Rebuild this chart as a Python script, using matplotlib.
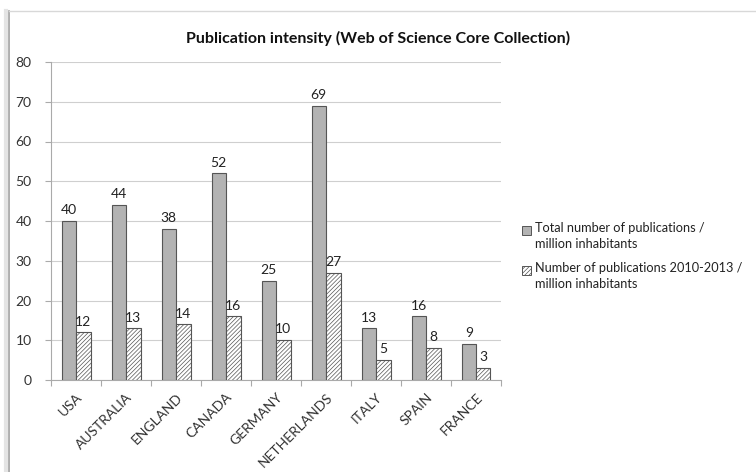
import matplotlib
matplotlib.use("Agg")
import matplotlib.pyplot as plt
import numpy as np
from matplotlib.patches import Rectangle
from matplotlib.lines import Line2D

countries = ["USA", "AUSTRALIA", "ENGLAND", "CANADA", "GERMANY", "NETHERLANDS", "ITALY", "SPAIN", "FRANCE"]
total = [40, 44, 38, 52, 25, 69, 13, 16, 9]
recent = [12, 13, 14, 16, 10, 27, 5, 8, 3]
series_names = ["Total number of publications /\nmillion inhabitants",
                "Number of publications 2010-2013 /\nmillion inhabitants"]
yticks = [0, 10, 20, 30, 40, 50, 60, 70, 80]

plt.rcParams['font.family'] = ['Lato', 'DejaVu Sans']
plt.rcParams['hatch.color'] = '#808080'
plt.rcParams['hatch.linewidth'] = 0.5

fig = plt.figure(figsize=(7.56, 4.72), dpi=100)
fig.patch.set_facecolor('white')

# frame
fig.add_artist(Line2D([9/756, 9/756], [0, 1 - 11/472], transform=fig.transFigure, color='#a0a0a0', lw=1.2))
fig.add_artist(Line2D([9/756, 1], [1 - 11/472, 1 - 11/472], transform=fig.transFigure, color='#d8d8d8', lw=1.0))
fig.add_artist(Line2D([6/756, 6/756], [0, 1 - 11/472], transform=fig.transFigure, color='#e4e4e4', lw=3))

ax = fig.add_axes([51/756, 1 - 380/472, 450/756, (380 - 62)/472])
x = np.arange(len(countries))
w = 0.29
b1 = ax.bar(x - w/2, total, w, color='#b3b3b3', edgecolor='#555555', linewidth=0.8, label=series_names[0], zorder=3)
b2 = ax.bar(x + w/2, recent, w, color='white', edgecolor='#555555', linewidth=0.8, hatch='////////', label=series_names[1], zorder=3)

for rect, v in zip(b1, total):
    ax.text(rect.get_x() + rect.get_width()/2, v + 1.2, str(v), ha='center', va='bottom', fontsize=10, color='#222222')
for rect, v in zip(b2, recent):
    ax.text(rect.get_x() + rect.get_width()/2, v + 1.2, str(v), ha='center', va='bottom', fontsize=10, color='#222222')

ax.set_xlim(-0.5, len(countries) - 0.5)
ax.set_ylim(0, 80)
ax.set_yticks(yticks)
ax.set_yticklabels([str(t) for t in yticks], fontsize=10, color='#333333')
ax.yaxis.grid(True, color='#cfcfcf', linewidth=0.8, zorder=0)
ax.set_axisbelow(True)
for s in ['top', 'right']:
    ax.spines[s].set_visible(False)
ax.spines['left'].set_color('#aaaaaa')
ax.spines['bottom'].set_color('#aaaaaa')
ax.tick_params(axis='y', length=4, color='#aaaaaa', pad=10)

ax.set_xticks(np.arange(len(countries) + 1) - 0.5, minor=False)
ax.set_xticklabels([])
ax.tick_params(axis='x', which='major', length=4, color='#aaaaaa')
ax.set_xticks(x, minor=True)
ax.set_xticklabels(countries, minor=True, rotation=45, ha='right', va='top', fontsize=10, color='#333333',
                   rotation_mode='anchor')
ax.tick_params(axis='x', which='minor', length=0, pad=8)

fig.text(378/756, 1 - 38/472, "Publication intensity (Web of Science Core Collection)", ha='center', va='center',
         fontsize=11.5, fontweight='bold', color='#111111')

# legend (manual layout, marker aligned with first text line)
leg_items = [(b1, 230), (b2, 270)]
for (bars, ycen), name in zip(leg_items, series_names):
    p = bars.patches[0]
    sq = Rectangle((522/756, 1 - (ycen + 4.5)/472), 9/756, 9/472, transform=fig.transFigure,
                   facecolor=p.get_facecolor(), edgecolor='#555555', linewidth=0.7,
                   hatch=p.get_hatch())
    fig.add_artist(sq)
    fig.text(535/756, 1 - (ycen - 8)/472, name, ha='left', va='top', fontsize=9.2, color='#222222',
             linespacing=1.35)

fig.savefig('out.png', dpi=100, facecolor='white')
